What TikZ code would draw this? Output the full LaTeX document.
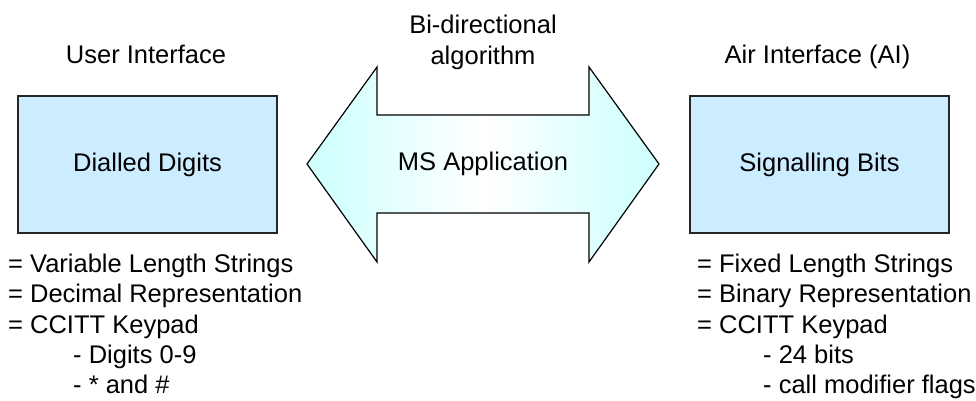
\documentclass[tikz,border=0pt]{standalone}
\usepackage{fontspec}
\setmainfont{Liberation Sans}
\definecolor{boxblue}{RGB}{204,236,255}
\definecolor{arrowcyan}{RGB}{204,255,255}
\begin{document}
\begin{tikzpicture}[x=1pt,y=-1pt,
        every node/.style={font=\fontsize{25.5}{30}\selectfont,inner sep=0pt},
        block/.style={draw=black!85,line width=1.2pt,fill=boxblue,
            minimum width=259pt,minimum height=137pt},
        item/.style={anchor=base west},
        arrowfill/.style={draw=black,line width=1.2pt,left color=arrowcyan,
            right color=arrowcyan,middle color=white}]
            \useasboundingbox (0,0) rectangle (976,401);
            % side boxes
            \node[block] (dd) at (147.5,164.5) {Dialled Digits};
            \node[block] (sb) at (819.5,164.5) {Signalling Bits};
            \node[anchor=base] (ui) at (146,64) {User Interface};
            \node[anchor=base] (ai) at (817.5,64) {Air Interface (AI)};
            % double arrow in the middle
            \shade[arrowfill] (483,164)
                +(-176,0) -- +(-106,-97) -- +(-106,-49) -- +(106,-49)
                -- +(106,-97) -- +(176,0) -- +(106,98) -- +(106,49)
                -- +(-106,49) -- +(-106,98) -- cycle;
            \node (app) at (483,164) {MS Application};
            \node[anchor=base] (bi) at (483,34) {Bi-directional};
            \node[anchor=base] (alg) at (483,65) {algorithm};
            % user interface properties
            \node[item] (ul1) at (8,272) {= Variable Length Strings};
            \node[item] (ul2) at (8,302.5) {= Decimal Representation};
            \node[item] (ul3) at (8,333) {= CCITT Keypad};
            \node[item] (ul4) at (73,363) {- Digits 0-9};
            \node[item] (ul5) at (73,393) {- * and \#};
            % air interface properties
            \node[item] (al1) at (697,272) {= Fixed Length Strings};
            \node[item] (al2) at (697,302.5) {= Binary Representation};
            \node[item] (al3) at (697,333) {= CCITT Keypad};
            \node[item] (al4) at (763,363) {- 24 bits};
            \node[item] (al5) at (763,393) {- call modifier flags};
        \end{tikzpicture}
\end{document}
